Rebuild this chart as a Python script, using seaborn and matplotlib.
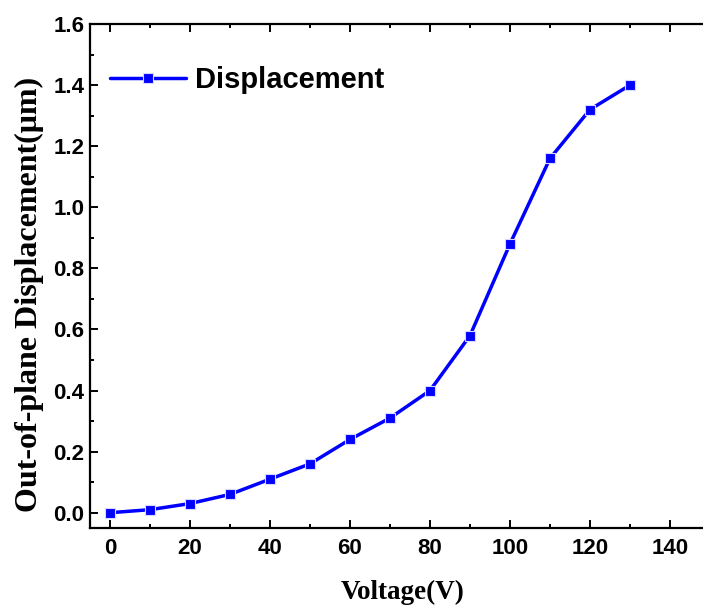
import matplotlib
matplotlib.use("Agg")
import matplotlib.pyplot as plt
import seaborn as sns
import pandas as pd
from matplotlib.ticker import MultipleLocator

voltage = [0, 10, 20, 30, 40, 50, 60, 70, 80, 90, 100, 110, 120, 130]
displacement = [0.0, 0.01, 0.03, 0.06, 0.11, 0.16, 0.24, 0.31, 0.40, 0.58, 0.88, 1.16, 1.32, 1.40]
series_name = "Displacement"

df = pd.DataFrame({"Voltage": voltage, "Disp": displacement})

sns.set_style("ticks")
plt.rcParams['font.family'] = ['Liberation Sans', 'DejaVu Sans']
plt.rcParams['text.color'] = 'black'
plt.rcParams['axes.labelcolor'] = 'black'
plt.rcParams['xtick.color'] = 'black'
plt.rcParams['ytick.color'] = 'black'

fig = plt.figure(figsize=(7.03, 6.08), dpi=100)
ax = fig.add_axes([90/703, 80/608, 616/703, 504/608])

sns.lineplot(data=df, x="Voltage", y="Disp", ax=ax, color="#0000ff",
             marker="s", markersize=7, markeredgewidth=0.8, markeredgecolor="#d8d8ff",
             linewidth=2.5, label=series_name)

ax.set_xlim(-5, 149)
ax.set_ylim(-0.05, 1.6)
ax.xaxis.set_major_locator(MultipleLocator(20))
ax.xaxis.set_minor_locator(MultipleLocator(10))
ax.yaxis.set_major_locator(MultipleLocator(0.2))
ax.yaxis.set_minor_locator(MultipleLocator(0.1))
ax.yaxis.set_major_formatter(matplotlib.ticker.FormatStrFormatter('%.1f'))

for s in ax.spines.values():
    s.set_linewidth(1.6)
    s.set_color("black")
ax.spines['right'].set_visible(False)

ax.tick_params(which='both', direction='in', top=True, right=False, width=1.4)
ax.tick_params(which='major', length=6, labelsize=16)
ax.tick_params(axis='x', which='major', pad=7)
ax.tick_params(axis='y', which='major', pad=4)
ax.tick_params(which='minor', length=3)
for lab in ax.get_xticklabels() + ax.get_yticklabels():
    lab.set_fontweight('bold')

ax.set_xlabel("Voltage(V)", family=['Liberation Serif', 'DejaVu Serif'],
              fontsize=19.5, fontweight='bold', labelpad=15)
ax.set_ylabel("Out-of-plane Displacement(μm)", family=['Liberation Serif', 'DejaVu Serif'],
              fontsize=23, fontweight='bold', labelpad=7)
ax.yaxis.label.set_y(0.464)
ax.xaxis.label.set_x(0.508)

leg = ax.legend(loc='center left', bbox_to_anchor=(0.0, 0.888), frameon=False,
                prop={'family': 'Liberation Sans', 'weight': 'bold', 'size': 21},
                handlelength=2.6, handletextpad=0.3, borderaxespad=0.3)

fig.savefig("out.png", dpi=100)
